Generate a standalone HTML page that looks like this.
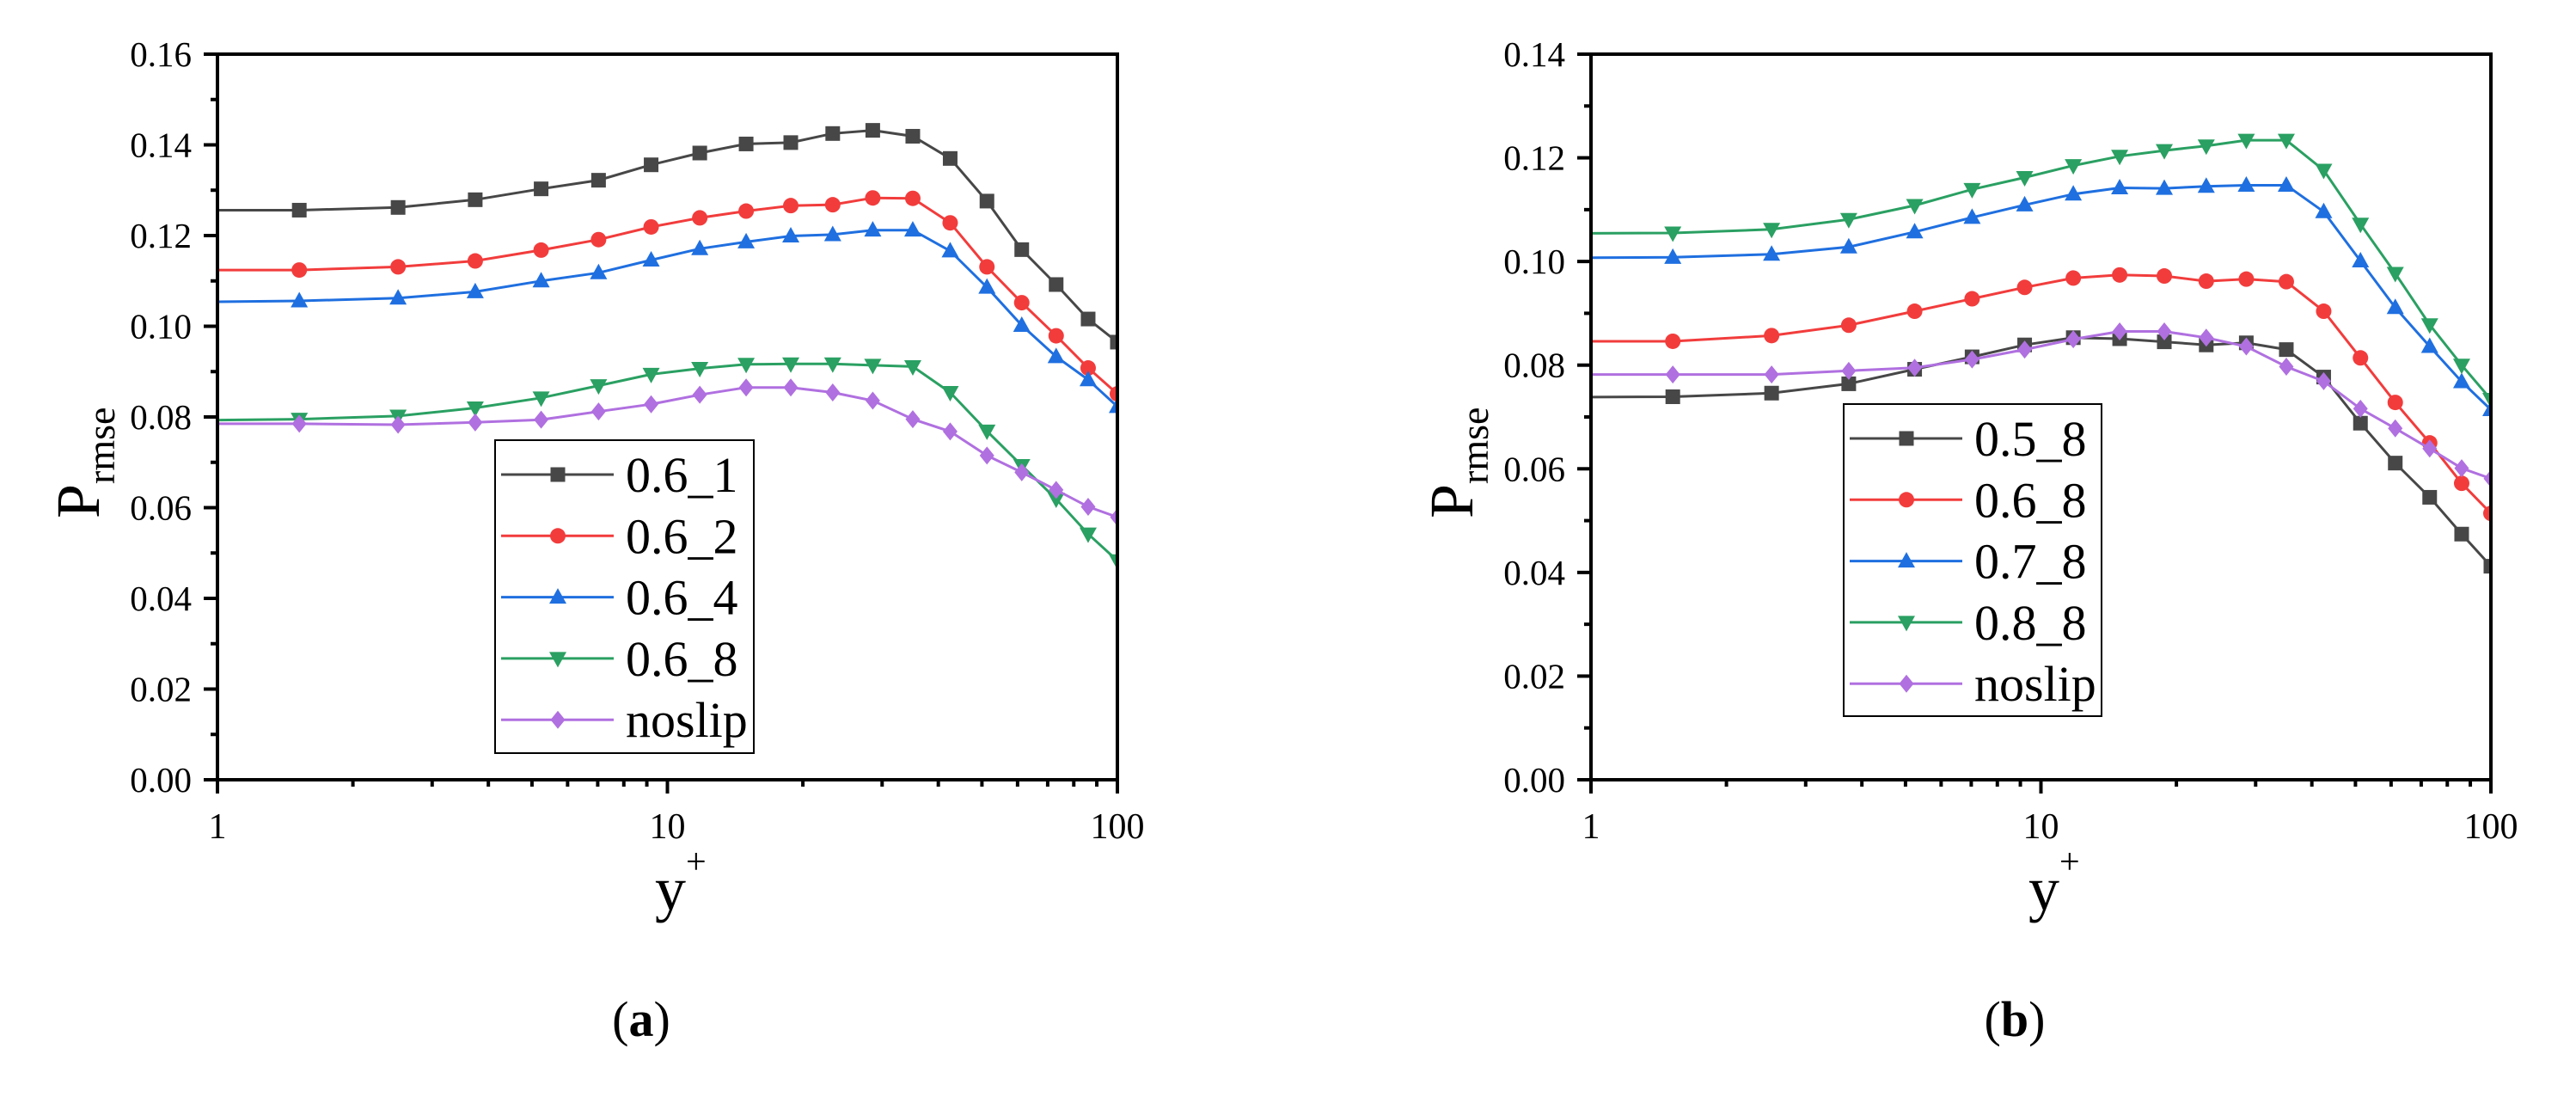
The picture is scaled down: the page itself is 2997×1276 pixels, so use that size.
<!DOCTYPE html>
<html><head><meta charset="utf-8">
<style>
html,body{margin:0;padding:0;background:#fff;}
svg{display:block;}
svg text{font-family:"Liberation Serif","Times New Roman",serif;}
</style></head>
<body>
<svg id="fig" width="2997" height="1276" viewBox="0 0 2997 1276"></svg>
<script>
const xValues=[0.8,1.52,2.52,3.74,5.24,7.03,9.2,11.8,14.96,18.8,23.3,28.6,35.1,42.5,51.3,61.3,73.1,86.1,100];
const aNames=["0.6_1","0.6_2","0.6_4","0.6_8","noslip"];
const a_0_6_1=[.1256,.1256,.1262,.1279,.1303,.1322,.1356,.1382,.1402,.1405,.1425,.1432,.1419,.1370,.1276,.1169,.1092,.1016,.0965];
const a_0_6_2=[.1124,.1124,.1131,.1144,.1168,.1191,.1219,.1239,.1254,.1266,.1268,.1283,.1282,.1228,.1131,.1052,.0979,.0908,.0851];
const a_0_6_4=[.1053,.1056,.1062,.1076,.1100,.1118,.1146,.1171,.1186,.1199,.1202,.1212,.1212,.1166,.1086,.1002,.0933,.0882,.0823];
const a_0_6_8=[.0792,.0795,.0802,.0820,.0842,.0869,.0894,.0907,.0916,.0917,.0917,.0914,.0911,.0854,.0769,.0693,.0619,.0542,.0483];
const a_noslip=[.0785,.0785,.0783,.0788,.0794,.0812,.0828,.0849,.0865,.0865,.0854,.0836,.0795,.0768,.0715,.0678,.0639,.0602,.0579];
const bNames=["0.5_8","0.6_8","0.7_8","0.8_8","noslip"];
const b_0_5_8=[.0738,.0739,.0746,.0764,.0792,.0816,.0839,.0853,.0851,.0845,.0839,.0843,.0830,.0777,.0688,.0611,.0545,.0474,.0412];
const b_0_6_8=[.0846,.0846,.0857,.0877,.0904,.0928,.0950,.0968,.0974,.0972,.0962,.0966,.0961,.0904,.0814,.0728,.0650,.0572,.0514];
const b_0_7_8=[.1007,.1008,.1014,.1028,.1057,.1085,.1109,.1130,.1142,.1141,.1145,.1147,.1147,.1096,.1001,.0911,.0836,.0768,.0714];
const b_0_8_8=[.1054,.1055,.1062,.1081,.1108,.1139,.1162,.1185,.1203,.1214,.1223,.1234,.1234,.1176,.1072,.0977,.0878,.0800,.0734];
const b_noslip=[.0782,.0782,.0782,.0789,.0795,.0811,.0830,.0850,.0865,.0865,.0853,.0836,.0797,.0769,.0716,.0678,.0639,.0601,.0581];
const aYTicks=["0.00","0.02","0.04","0.06","0.08","0.10","0.12","0.14","0.16"];
const bYTicks=["0.00","0.02","0.04","0.06","0.08","0.10","0.12","0.14"];
const xTicks=["1","10","100"];

const colors=["#474747","#f23c3c","#1f6fe0","#2aa062","#b070e0"];
const markers=["square","circle","up","down","diamond"];
const FONT='"Liberation Serif", "Times New Roman", serif';
const NS="http://www.w3.org/2000/svg";
const svg=document.getElementById('fig');
function mk(tag,attrs,parent){const e=document.createElementNS(NS,tag);for(const k in attrs)e.setAttribute(k,attrs[k]);(parent||svg).appendChild(e);return e;}
function txt(attrs,parent){attrs['font-family']=FONT;return mk('text',attrs,parent);}

function marker(g,type,x,y,c){
  let e;const s=8.5;
  if(type==="square")e=mk('rect',{x:x-s,y:y-s,width:2*s,height:2*s,fill:c},g);
  else if(type==="circle")e=mk('circle',{cx:x,cy:y,r:s+0.5,fill:c},g);
  else if(type==="up")e=mk('polygon',{points:`${x},${y-s-2} ${x-s-1.5},${y+s-1} ${x+s+1.5},${y+s-1}`,fill:c},g);
  else if(type==="down")e=mk('polygon',{points:`${x},${y+s+2} ${x-s-1.5},${y-s+1} ${x+s+1.5},${y-s+1}`,fill:c},g);
  else e=mk('polygon',{points:`${x},${y-s-2} ${x+s},${y} ${x},${y+s+2} ${x-s},${y}`,fill:c},g);
  return e;
}

function panel(id,L,yMax,yTicks,series,names,leg,letter){
  const T=63,B=907,R=L+1047;
  const xs=v=>L+(Math.log10(v))/2*(R-L);
  const ys=v=>B-v/yMax*(B-T);
  const g=mk('g',{});
  
  
  const cp=mk('clipPath',{id:'clip'+letter},g);
  mk('rect',{x:L,y:T,width:R-L,height:B-T},cp);
  series.forEach((arr,si)=>{
    const sg=mk('g',{'clip-path':`url(#clip${letter})`},g);
    
    
    const pts=arr.map((v,i)=>xs(xValues[i]).toFixed(1)+','+ys(v).toFixed(1)).join(' ');
    mk('polyline',{points:pts,fill:'none',stroke:colors[si],'stroke-width':3},sg);
    arr.forEach((v,i)=>{if(xValues[i]>=1)marker(sg,markers[si],xs(xValues[i]),ys(v),colors[si]);});
  });
  const ax=mk('g',{stroke:'#000','stroke-width':4,fill:'none'},g);
  
  
  mk('rect',{x:L,y:T,width:R-L,height:B-T},ax);
  const step=0.02;
  yTicks.forEach((t,i)=>{
    const y=ys(i*step);
    mk('line',{x1:L-16,y1:y,x2:L,y2:y},ax);
    if(i<yTicks.length-1){const ym=ys(i*step+step/2);mk('line',{x1:L-8,y1:ym,x2:L,y2:ym},ax);}
    const tx=txt({x:L-30,y:y+14,'text-anchor':'end','font-size':41,fill:'#000'},g);
    tx.textContent=t;
    
    
  });
  xTicks.forEach((t,i)=>{
    const x=xs(Math.pow(10,i));
    mk('line',{x1:x,y1:B,x2:x,y2:B+16},ax);
    if(i<2)for(let k=2;k<=9;k++){const xm=xs(k*Math.pow(10,i));mk('line',{x1:xm,y1:B,x2:xm,y2:B+8},ax);}
    const tx=txt({x:x,y:975,'text-anchor':'middle','font-size':42,fill:'#000'},g);
    tx.textContent=t;
    
    
  });
  const yt=txt({transform:`translate(${L-138},${(T+B)/2+118}) rotate(-90)`,'font-size':72,fill:'#000'},g);
  
  
  yt.innerHTML='P<tspan font-size="46" dy="18">rmse</tspan>';
  const xt=txt({x:L+509,y:1058,'font-size':72,fill:'#000'},g);
  
  
  xt.innerHTML='y<tspan font-size="42" dy="-42">+</tspan>';
  const lg=mk('g',{},g);
  
  
  mk('rect',{x:leg.x,y:leg.y,width:leg.w,height:leg.h,fill:'#fff',stroke:'#000','stroke-width':2},lg);
  names.forEach((n,i)=>{
    const cy=leg.y+40+i*71.3;
    const e=mk('g',{},lg);
    
    
    mk('line',{x1:leg.x+7,y1:cy,x2:leg.x+138,y2:cy,stroke:colors[i],'stroke-width':3},e);
    marker(e,markers[i],leg.x+73,cy,colors[i]);
    const tx=txt({x:leg.x+152,y:cy+20,'font-size':58,fill:'#000'},e);
    tx.textContent=n;
  });
  const cap=txt({x:L+493,y:1205,'text-anchor':'middle','font-size':58,fill:'#000'},g);
  
  
  cap.innerHTML=`(<tspan font-weight="bold">${letter}</tspan>)`;
}
panel('a',253,0.16,aYTicks,[a_0_6_1,a_0_6_2,a_0_6_4,a_0_6_8,a_noslip],aNames,{x:576,y:512,w:301,h:364},'a');
panel('b',1851,0.14,bYTicks,[b_0_5_8,b_0_6_8,b_0_7_8,b_0_8_8,b_noslip],bNames,{x:2145,y:470,w:300,h:363},'b');
</script>
</body></html>
